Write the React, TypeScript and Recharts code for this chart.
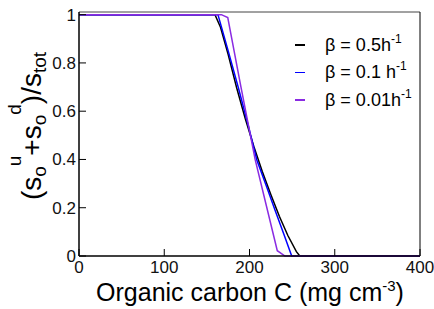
import React from "react";
import {
  LineChart,
  Line,
  XAxis,
  YAxis,
  Legend,
  ReferenceLine,
} from "recharts";

// Organic carbon C (mg cm^-3) and the fraction (s_o^u + s_o^d)/s_tot, one pair of arrays per beta
const C_05 = [0, 159.5, 166, 175, 185, 195, 205, 215, 225, 235, 245, 255, 259, 400];
const S_05 = [1, 1, 0.948, 0.835, 0.696, 0.57, 0.455, 0.35, 0.255, 0.165, 0.085, 0.018, 0, 0];

const C_01 = [0, 163, 175, 187, 198, 208.6, 220, 230, 240, 249.5, 400];
const S_01 = [1, 1, 0.85, 0.696, 0.548, 0.398, 0.288, 0.19, 0.093, 0, 0];

const C_001 = [0, 167, 174.5, 190, 206.6, 220, 232.6, 241.6, 400];
const S_001 = [1, 1, 0.988, 0.7, 0.4, 0.205, 0.022, 0, 0];

const X_TICKS = [0, 100, 200, 300, 400];
const Y_TICKS = [0, 0.2, 0.4, 0.6, 0.8, 1];
const Y_MAX = 1.011;

const FONT = "'Liberation Sans', Arial, sans-serif";

const SERIES = [
  { key: "b05", label: "β = 0.5h", color: "#000000", c: C_05, s: S_05 },
  { key: "b01", label: "β = 0.1 h", color: "#0000ff", c: C_01, s: S_01 },
  { key: "b001", label: "β = 0.01h", color: "#8a2be2", c: C_001, s: S_001 },
];

const toPoints = (c: number[], s: number[]) => c.map((x, i) => ({ c: x, s: s[i] }));

function XTitle() {
  return (
    <text x={250} y={301} textAnchor="middle" fontSize={25} fontFamily={FONT} fill="#000">
      <tspan>Organic carbon C (mg cm</tspan>
      <tspan fontSize={15} dy={-10}>-3</tspan>
      <tspan dy={10}>)</tspan>
    </text>
  );
}

function YTitle() {
  return (
    <text
      transform="translate(41,126) rotate(-90)"
      textAnchor="middle"
      fontSize={28}
      fontFamily={FONT}
      fill="#000"
    >
      <tspan>(s</tspan>
      <tspan fontSize={19} dy={5}>o</tspan>
      <tspan fontSize={19} dy={-25}>u</tspan>
      <tspan dy={20}>+s</tspan>
      <tspan fontSize={19} dy={5}>o</tspan>
      <tspan fontSize={19} dy={-25}>d</tspan>
      <tspan dy={20}>)/s</tspan>
      <tspan fontSize={19} dy={5}>tot</tspan>
    </text>
  );
}

function LegendBox() {
  return (
    <div style={{ fontFamily: FONT, fontSize: 18, color: "#000" }}>
      {SERIES.map((sr) => (
        <div key={sr.key} style={{ display: "flex", alignItems: "center", height: 27.5 }}>
          <span style={{ display: "inline-block", width: 10, height: 1.5, background: sr.color, marginRight: 20 }} />
          <span style={{ whiteSpace: "nowrap", lineHeight: 1 }}>
            {sr.label}
            <sup style={{ fontSize: 12, verticalAlign: "baseline", position: "relative", top: -8 }}>-1</sup>
          </span>
        </div>
      ))}
    </div>
  );
}

export default function App() {
  return (
    <div style={{ position: "absolute", left: 0, top: 0, width: 434, height: 309, background: "#fff" }}>
      <LineChart width={434} height={309} margin={{ top: 12, right: 14, bottom: 0, left: 39 }}>
        <XAxis
          type="number"
          dataKey="c"
          domain={[0, 400]}
          ticks={X_TICKS}
          allowDuplicatedCategory={false}
          height={53}
          tickSize={-7}
          tickMargin={12}
          axisLine={{ stroke: "#000", strokeWidth: 1.5 }}
          tickLine={{ stroke: "#000", strokeWidth: 1 }}
          tick={{ fontSize: 17, fontFamily: FONT, fill: "#111" }}
          label={<XTitle />}
        />
        <YAxis
          type="number"
          domain={[0, Y_MAX]}
          ticks={Y_TICKS}
          width={40}
          tickSize={-7}
          tickMargin={10}
          tickFormatter={(v: number) => String(v)}
          axisLine={{ stroke: "#000", strokeWidth: 1.5 }}
          tickLine={{ stroke: "#000", strokeWidth: 1 }}
          tick={{ fontSize: 17, fontFamily: FONT, fill: "#111" }}
          label={<YTitle />}
        />
        <ReferenceLine y={Y_MAX} stroke="#444" strokeWidth={1} />
        <ReferenceLine x={400} stroke="#000" strokeWidth={1} />
        {SERIES.map((sr) => (
          <Line
            key={sr.key}
            data={toPoints(sr.c, sr.s)}
            dataKey="s"
            name={sr.key}
            type="linear"
            stroke={sr.color}
            strokeWidth={1.5}
            dot={false}
            activeDot={false}
            isAnimationActive={false}
          />
        ))}
        <Legend
          layout="horizontal"
          verticalAlign="middle"
          align="center"
          content={() => <LegendBox />}
          wrapperStyle={{ left: 295, top: 31, width: "auto", height: "auto" }}
        />
      </LineChart>
    </div>
  );
}
